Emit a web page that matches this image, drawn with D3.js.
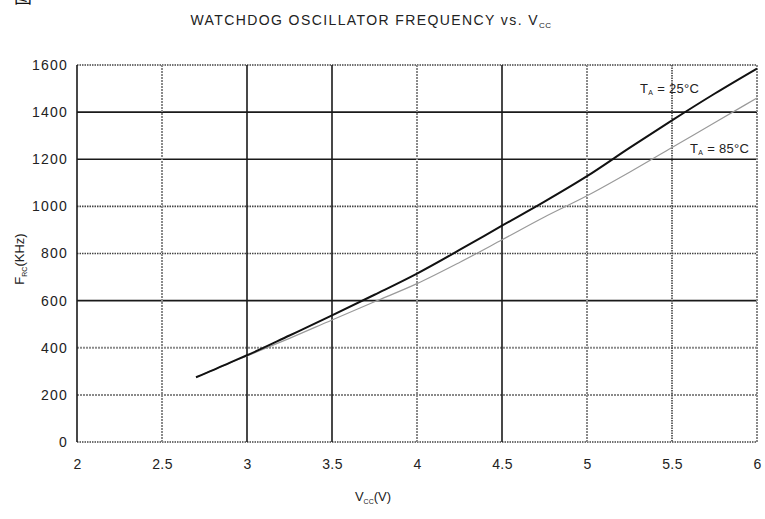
<!DOCTYPE html>
<html>
<head>
<meta charset="utf-8">
<script src="https://cdn.jsdelivr.net/npm/d3@7"></script>
<style>
  html, body { margin: 0; padding: 0; background: #fff; }
  svg { display: block; font-family: "Liberation Sans", Arial, sans-serif; }
</style>
</head>
<body>
<svg id="chart" width="765" height="519"></svg>
<script>
// Supply voltage samples (V)
const vcc25 = [2.7, 2.8, 2.9, 3.0, 3.25, 3.5, 3.75, 4.0, 4.25, 4.5, 4.75, 5.0, 5.25, 5.5, 5.75, 6.0];
// Watchdog RC oscillator frequency at TA = 25°C (kHz)
const freq25 = [275, 305, 337, 368, 452, 537, 625, 715, 815, 918, 1020, 1128, 1248, 1365, 1478, 1585];

const vcc85 = [2.7, 2.8, 2.9, 3.0, 3.1, 3.25, 3.5, 3.75, 4.0, 4.25, 4.5, 4.75, 5.0, 5.25, 5.5, 5.75, 6.0];
// Frequency at TA = 85°C (kHz)
const freq85 = [275, 305, 336, 365, 395, 440, 518, 595, 672, 762, 858, 955, 1045, 1145, 1250, 1355, 1460];

const xTicks = [2, 2.5, 3, 3.5, 4, 4.5, 5, 5.5, 6];
const yTicks = [0, 200, 400, 600, 800, 1000, 1200, 1400, 1600];

// grid line look for each tick (printed-datasheet style mix)
const xGridStyle = ["solid", "faint", "solid", "solid", "faint", "solid", "faint", "dotted", "faint"];
const yGridStyle = ["dotted", "faint", "faint", "solid", "dotted", "dotted", "solid", "solid", "dotted"];

const svg = d3.select("#chart");
const plotL = 77, plotR = 757, plotT = 65, plotB = 442;

const x = d3.scaleLinear().domain([2, 6]).range([plotL, plotR]);
const y = d3.scaleLinear().domain([0, 1600]).range([plotB, plotT]);

const styles = {
  solid:  { stroke: "#1a1a1a", width: 1.6, dash: null },
  dotted: { stroke: "#444",    width: 1.6, dash: "1.5,1" },
  faint:  { stroke: "#8a8a8a", width: 2,   dash: "2,1" }
};

function applyStyle(sel, name) {
  const s = styles[name];
  sel.attr("stroke", s.stroke).attr("stroke-width", s.width)
     .attr("stroke-dasharray", s.dash);
}

// grid
const grid = svg.append("g");
yTicks.forEach((t, i) => {
  grid.append("line")
    .attr("x1", plotL).attr("x2", plotR)
    .attr("y1", y(t)).attr("y2", y(t))
    .call(applyStyle, yGridStyle[i]);
});
xTicks.forEach((t, i) => {
  grid.append("line")
    .attr("x1", x(t)).attr("x2", x(t))
    .attr("y1", plotT).attr("y2", plotB)
    .call(applyStyle, xGridStyle[i]);
});

// tick labels via d3 axes (domain and tick marks hidden, grid drawn separately)
const xAxis = svg.append("g")
  .attr("transform", `translate(0,${plotB})`)
  .call(d3.axisBottom(x).tickValues(xTicks).tickSize(0).tickPadding(17)
    .tickFormat(d => String(d)));
xAxis.select(".domain").remove();
xAxis.selectAll("text").attr("font-size", 14).attr("fill", "#222")
  .attr("letter-spacing", 0.4)
  .attr("font-family", "Liberation Sans, Arial, sans-serif");

const yAxis = svg.append("g")
  .attr("transform", `translate(${plotL},0)`)
  .call(d3.axisLeft(y).tickValues(yTicks).tickSize(0).tickPadding(9)
    .tickFormat(d => String(d)));
yAxis.select(".domain").remove();
yAxis.selectAll("text").attr("font-size", 14).attr("fill", "#222")
  .attr("letter-spacing", 1.2)
  .attr("font-family", "Liberation Sans, Arial, sans-serif");

// curves
const line = d3.line().x(d => x(d[0])).y(d => y(d[1])).curve(d3.curveMonotoneX);

svg.append("path")
  .datum(d3.zip(vcc85, freq85))
  .attr("d", line)
  .attr("fill", "none")
  .attr("stroke", "#9a9a9a")
  .attr("stroke-width", 1.2);

svg.append("path")
  .datum(d3.zip(vcc25, freq25))
  .attr("d", line)
  .attr("fill", "none")
  .attr("stroke", "#111")
  .attr("stroke-width", 2);

// curve labels
function tempLabel(px, py, temp) {
  const t = svg.append("text")
    .attr("x", px).attr("y", py)
    .attr("font-size", 13).attr("fill", "#222")
    .attr("letter-spacing", 0.3);
  t.append("tspan").text("T");
  t.append("tspan").attr("font-size", 7).attr("dy", 2).text("A");
  t.append("tspan").attr("dy", -2).text(" = " + temp + "°C");
}
tempLabel(640, 93, 25);
tempLabel(690, 153, 85);

// title
const title = svg.append("text")
  .attr("x", 371).attr("y", 25)
  .attr("text-anchor", "middle")
  .attr("font-size", 14).attr("fill", "#222")
  .attr("letter-spacing", 1.4);
title.append("tspan").text("WATCHDOG OSCILLATOR FREQUENCY vs. V");
title.append("tspan").attr("font-size", 8).attr("dy", 3).attr("letter-spacing", 0.5).text("CC");

// x-axis title
const xt = svg.append("text")
  .attr("x", 373).attr("y", 501)
  .attr("text-anchor", "middle")
  .attr("font-size", 13).attr("fill", "#222");
xt.append("tspan").text("V");
xt.append("tspan").attr("font-size", 7).attr("dy", 3).text("CC");
xt.append("tspan").attr("dy", -3).text("(V)");

// y-axis title
const yt = svg.append("text")
  .attr("transform", "translate(24,259) rotate(-90)")
  .attr("text-anchor", "middle")
  .attr("font-size", 13).attr("fill", "#222");
yt.append("tspan").text("F");
yt.append("tspan").attr("font-size", 7).attr("dy", 3).text("RC");
yt.append("tspan").attr("dy", -3).text("(KHz)");

// figure caption mark at the page's upper-left corner
svg.append("text")
  .attr("x", 14).attr("y", 3)
  .attr("font-size", 18).attr("fill", "#111")
  .attr("font-family", "Noto Sans CJK SC, sans-serif")
  .text("图");
</script>
</body>
</html>
